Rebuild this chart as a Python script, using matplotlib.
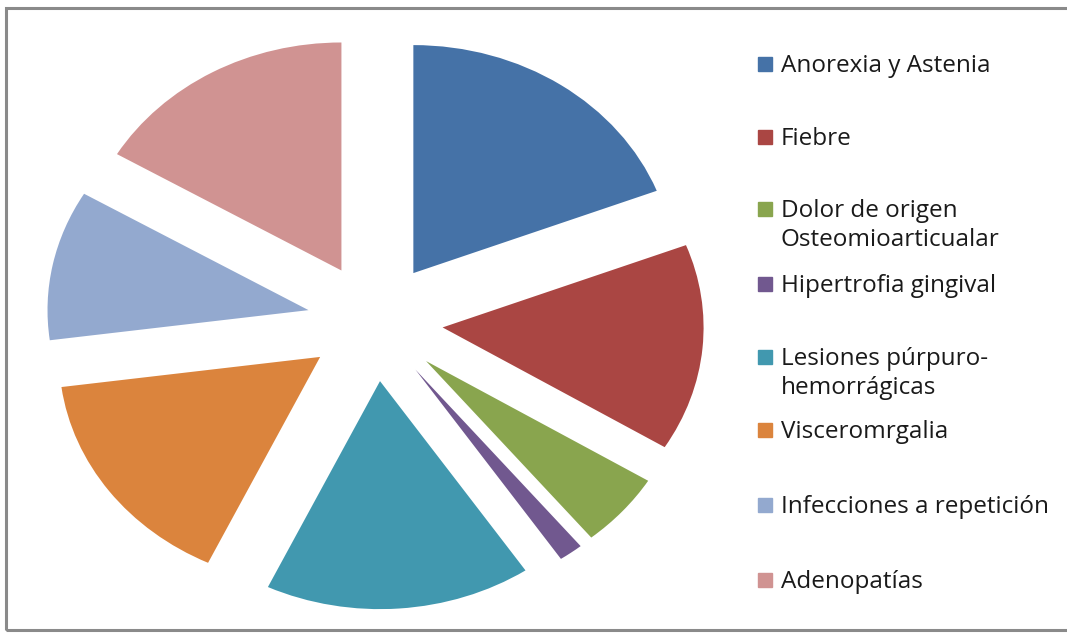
import matplotlib
matplotlib.use('Agg')
import matplotlib.pyplot as plt
from matplotlib.patches import Rectangle

# datos (porcentajes aproximados)
labels = ['Anorexia y Astenia', 'Fiebre', 'Dolor de origen\nOsteomioarticualar',
          'Hipertrofia gingival', 'Lesiones púrpuro-\nhemorrágicas', 'Visceromrgalia',
          'Infecciones a repetición', 'Adenopatías']
values = [19.15, 14.7, 5.3, 1.5, 16.5, 15.85, 10.65, 16.5]
colors = ['#4572A7', '#AA4643', '#89A54E', '#71588F', '#4198AF', '#DB843D',
          '#93A9CF', '#D09392']

W, H = 1067, 633
fig = plt.figure(figsize=(W / 100, H / 100), dpi=100)
ax = fig.add_axes([0, 0, 1, 1])

ax.pie(values, colors=colors, startangle=90, counterclock=False,
       explode=[0.26] * len(values), wedgeprops=dict(linewidth=0))

# el grafico original esta algo estirado en horizontal
cx, cy, rx, ry = 375, 322, 261, 228
ax.set_aspect('auto')
ax.set_xlim(-cx / rx, (W - cx) / rx)
ax.set_ylim((cy - H) / ry, cy / ry)
ax.axis('off')

# marco gris
fig.patches.append(Rectangle((6 / W, 3 / H), (W - 4) / W, (H - 11) / H,
                             transform=fig.transFigure, fill=False,
                             edgecolor='#8a8a8a', linewidth=2.2))

# leyenda a mano (el cuadro va alineado con la primera linea)
baselines = [72, 145, 217, 292, 365, 438, 513, 588]
for lab, col, y in zip(labels, colors, baselines):
    fig.patches.append(Rectangle((758 / W, 1 - (y - 1) / H), 14 / W, 14 / H,
                                 transform=fig.transFigure, color=col))
    for k, line in enumerate(lab.split('\n')):
        fig.text(781 / W, 1 - (y + 29 * k) / H, line, fontsize=17.5,
                 family='Open Sans', color='#1a1a1a', va='baseline', ha='left')

fig.savefig('out.png', dpi=100)
